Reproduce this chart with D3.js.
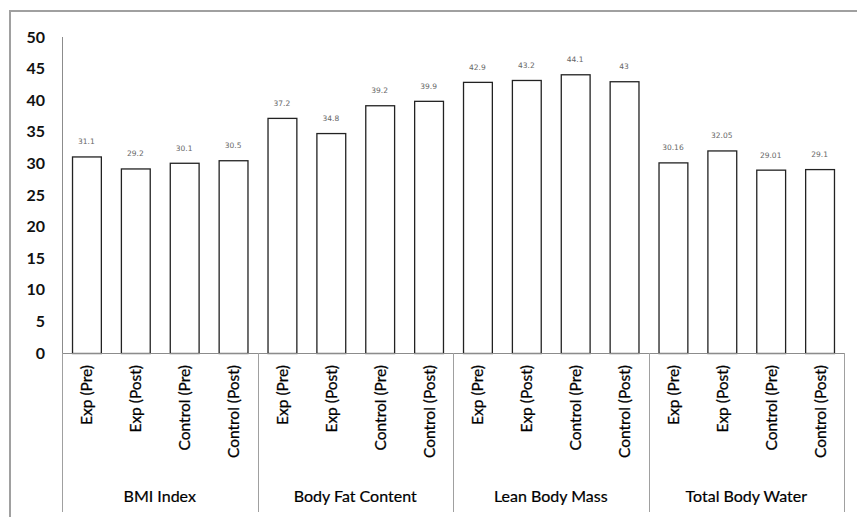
<!DOCTYPE html>
<html>
<head>
<meta charset="utf-8">
<script src="https://cdn.jsdelivr.net/npm/d3@7"></script>
<style>
  html, body { margin: 0; padding: 0; background: #fff; }
  svg { display: block; }
</style>
</head>
<body>
<svg id="chart" width="857" height="517"></svg>
<script>
// Measures and the four study arms shown for each
const groups = ["BMI Index", "Body Fat Content", "Lean Body Mass", "Total Body Water"];
const arms = ["Exp (Pre)", "Exp (Post)", "Control (Pre)", "Control (Post)"];
const bmiValues = [31.1, 29.2, 30.1, 30.5];
const bodyFatValues = [37.2, 34.8, 39.2, 39.9];
const leanMassValues = [42.9, 43.2, 44.1, 43];
const bodyWaterValues = [30.16, 32.05, 29.01, 29.1];
const yTicks = [0, 5, 10, 15, 20, 25, 30, 35, 40, 45, 50];

const seriesByGroup = [bmiValues, bodyFatValues, leanMassValues, bodyWaterValues];
const rows = [];
groups.forEach((g, gi) => {
  arms.forEach((a, ai) => {
    rows.push({ key: g + "|" + a, group: g, arm: a, value: seriesByGroup[gi][ai] });
  });
});

const svg = d3.select("#chart");
const plotLeft = 62, plotRight = 844, plotTop = 37, plotBottom = 353;
const labelFont = "Lato, 'Open Sans', sans-serif";

// chart frame
svg.append("rect")
  .attr("x", 10).attr("y", 11)
  .attr("width", 860).attr("height", 530)
  .attr("fill", "none").attr("stroke", "#a0a0a0").attr("stroke-width", 2);

const x = d3.scaleBand()
  .domain(rows.map(d => d.key))
  .range([plotLeft, plotRight])
  .paddingInner(0.41)
  .paddingOuter(0.205);

const y = d3.scaleLinear().domain([0, 50]).range([plotBottom, plotTop]);

// y axis: labels only, plus the plain axis line
const yAxis = svg.append("g")
  .attr("transform", `translate(${plotLeft},0)`)
  .call(d3.axisLeft(y).tickValues(yTicks).tickSize(0).tickPadding(17));
yAxis.select(".domain").remove();
yAxis.selectAll("text")
  .attr("font-family", labelFont)
  .attr("font-weight", "bold")
  .attr("font-size", 16)
  .attr("fill", "#111");

svg.append("line")
  .attr("x1", plotLeft + 0.5).attr("x2", plotLeft + 0.5)
  .attr("y1", plotTop).attr("y2", plotBottom)
  .attr("stroke", "#8c8c8c").attr("stroke-width", 1);

// bars
svg.append("g").selectAll("rect")
  .data(rows)
  .join("rect")
  .attr("x", d => x(d.key) + 0.5)
  .attr("y", d => y(d.value) + 0.5)
  .attr("width", x.bandwidth())
  .attr("height", d => y(0) - y(d.value))
  .attr("fill", "#fff")
  .attr("stroke", "#222")
  .attr("stroke-width", 1.3);

// value labels
svg.append("g").selectAll("text")
  .data(rows)
  .join("text")
  .attr("x", d => x(d.key) + x.bandwidth() / 2)
  .attr("y", d => y(d.value) - 12)
  .attr("text-anchor", "middle")
  .attr("font-family", "'DejaVu Sans', sans-serif")
  .attr("font-size", 7.5)
  .attr("fill", "#666")
  .text(d => d.value);

// x axis line
svg.append("line")
  .attr("x1", plotLeft).attr("x2", plotRight)
  .attr("y1", plotBottom + 0.5).attr("y2", plotBottom + 0.5)
  .attr("stroke", "#8c8c8c").attr("stroke-width", 1);

// group separators extending below the axis
const groupWidth = (plotRight - plotLeft) / groups.length;
const seps = d3.range(groups.length + 1).map(i => plotLeft + i * groupWidth);
svg.append("g").selectAll("line")
  .data(seps)
  .join("line")
  .attr("x1", d => Math.round(d) + 0.5).attr("x2", d => Math.round(d) + 0.5)
  .attr("y1", plotBottom).attr("y2", 512)
  .attr("stroke", "#a0a0a0").attr("stroke-width", 1);

// rotated arm labels
svg.append("g").selectAll("text")
  .data(rows)
  .join("text")
  .attr("transform", d => `translate(${x(d.key) + x.bandwidth() / 2 + 6},${plotBottom + 12}) rotate(-90)`)
  .attr("text-anchor", "end")
  .attr("font-family", labelFont)
  .attr("font-size", 15.5)
  .attr("fill", "#000")
  .attr("stroke", "#000")
  .attr("stroke-width", 0.25)
  .text(d => d.arm);

// group labels
svg.append("g").selectAll("text")
  .data(groups)
  .join("text")
  .attr("x", (d, i) => plotLeft + (i + 0.5) * groupWidth)
  .attr("y", 502)
  .attr("text-anchor", "middle")
  .attr("font-family", labelFont)
  .attr("font-size", 16)
  .attr("fill", "#000")
  .attr("stroke", "#000")
  .attr("stroke-width", 0.2)
  .text(d => d);
</script>
</body>
</html>
